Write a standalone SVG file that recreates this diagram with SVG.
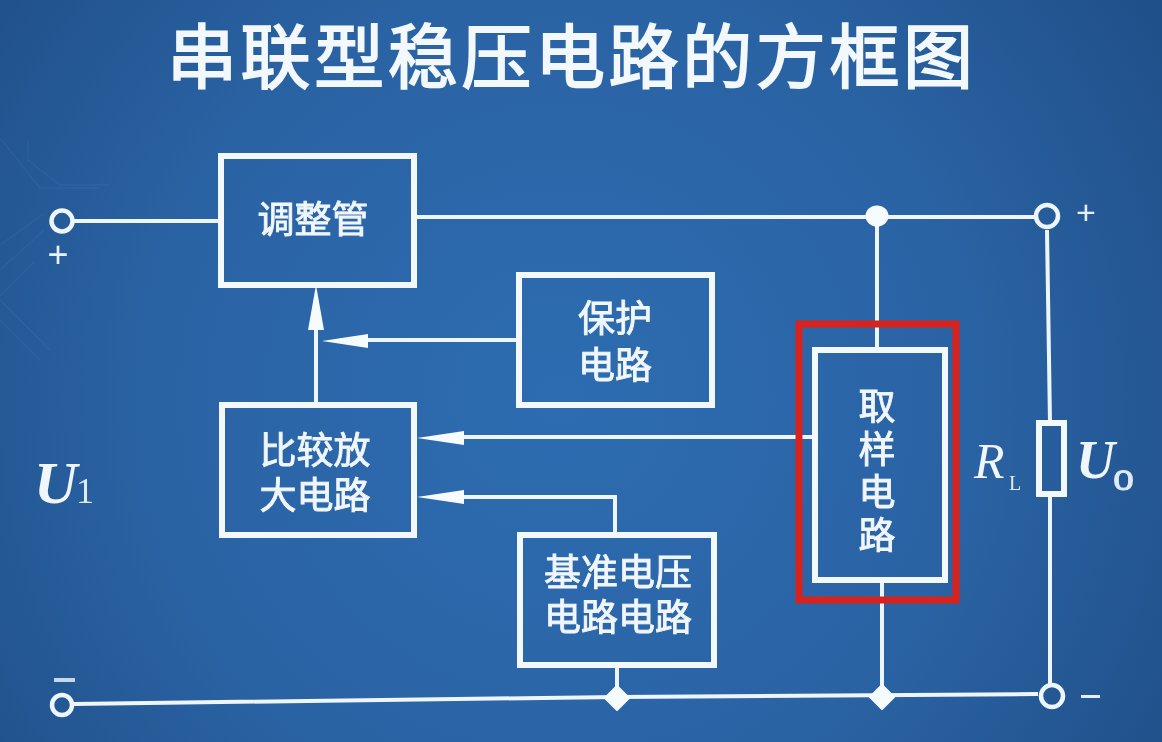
<svg xmlns="http://www.w3.org/2000/svg" width="1162" height="742" viewBox="0 0 1162 742">
<defs>
<radialGradient id="bg" gradientUnits="userSpaceOnUse" cx="560" cy="400" r="740">
<stop offset="0" stop-color="#2d6cb1"/><stop offset="0.55" stop-color="#2a63a4"/><stop offset="1" stop-color="#1f4e87"/>
</radialGradient>
<filter id="soft" filterUnits="userSpaceOnUse" x="0" y="0" width="1162" height="742"><feGaussianBlur stdDeviation="0.6"/></filter>
</defs>
<style>
.box{fill:none;stroke:#f2f8fc;stroke-width:6}
.w{fill:none;stroke:#eef6fb;stroke-width:4}
.term{fill:none;stroke:#eef6fb;stroke-width:4.5}
.dot,.ah{fill:#f6fbfe}
.cn{font-family:"Liberation Sans","Noto Sans CJK SC","Noto Sans CJK TC",sans-serif;font-weight:400;font-size:37px;fill:#f0f6fb;stroke:#f0f6fb;stroke-width:.9;text-anchor:middle}
.it{font-family:"Liberation Serif",serif;font-style:italic;fill:#f0f6fb}
.rm{font-family:"Liberation Serif",serif;fill:#dfeaf4}
.sg{font-family:"Liberation Sans",sans-serif;fill:#e6f0f8;text-anchor:middle}
.pcb{fill:none;stroke:#4c86bf;stroke-width:1.5;opacity:.16}
</style>
<rect width="1162" height="742" fill="url(#bg)"/>
<g class="pcb">
<path d="M0 138L40 188H100M28 140V160L60 185H110M0 245L42 215M0 270L44 230M0 296L34 262M0 300L50 350M0 320L40 360"/>
</g>
<g filter="url(#soft)">
<text id="title" x="570" y="83" font-family="'Noto Sans CJK SC',sans-serif" font-weight="400" font-size="70" fill="#f2f8fc" stroke="#f2f8fc" stroke-width="1.8" text-anchor="middle" textLength="806" lengthAdjust="spacing">串联型稳压电路的方框图</text>
<g id="connectors">
<path class="w" d="M73 221H220"/>
<path class="w" d="M415 217H1036"/>
<path class="w" d="M877 217V349"/>
<path class="w" d="M1047 230L1050 423"/>
<path class="w" d="M1050 496V686"/>
<path class="w" d="M316 405V300"/>
<path class="w" d="M518 340H340"/>
<path class="w" d="M815 437H445"/>
<path class="w" d="M615 534V497H445"/>
<path class="w" d="M617 666V696"/>
<path class="w" d="M882 582V692"/>
<path class="w" d="M73 704L617 697L1038 694"/>
<path class="ah" d="M316 285L308 330H324Z"/>
<path class="ah" d="M322 341L368 334V348Z"/>
<path class="ah" d="M417 438L464 431V445Z"/>
<path class="ah" d="M417 497L464 490V504Z"/>
<ellipse class="dot" cx="877" cy="216" rx="11.5" ry="10.5"/>
<path class="dot" d="M617 686L629 698L617 710L605 698Z" stroke="#f6fbfe" stroke-width="2" stroke-linejoin="round"/>
<path class="dot" d="M882 685L894 697L882 709L870 697Z" stroke="#f6fbfe" stroke-width="2" stroke-linejoin="round"/>
</g>
<g id="terminals">
<circle class="term" cx="62" cy="221" r="10.5"/>
<circle class="term" cx="62" cy="705" r="10"/>
<circle class="term" cx="1047" cy="216" r="11"/>
<circle class="term" cx="1052" cy="696" r="11"/>
<text class="sg" x="58" y="267" font-size="36">+</text>
<rect x="54" y="678" width="21" height="4" fill="#c5d8ea"/>
<text class="sg" x="1086" y="224" font-size="34">+</text>
<rect x="1081" y="695" width="19" height="3" fill="#e6f0f8"/>
</g>
<g id="n-tiaozheng"><rect class="box" x="221" y="156" width="193" height="129"/><text class="cn" x="313" y="233">调整管</text></g>
<g id="n-baohu"><rect class="box" x="519" y="275" width="193" height="130"/><text class="cn" y="332"><tspan x="615">保护</tspan><tspan x="615" dy="47">电路</tspan></text></g>
<g id="n-bijiao"><rect class="box" x="222" y="405" width="192" height="130"/><text class="cn" y="464"><tspan x="315">比较放</tspan><tspan x="315" dy="45">大电路</tspan></text></g>
<g id="n-jizhun"><rect class="box" x="520" y="535" width="194" height="130"/><text class="cn" y="586"><tspan x="618">基准电压</tspan><tspan x="618" dy="45">电路电路</tspan></text></g>
<g id="n-quyang"><rect x="799" y="324" width="157" height="276" fill="none" stroke="#d8201f" stroke-width="7"/><rect class="box" x="815" y="350" width="130" height="230"/><text class="cn" x="877" y="387" style="writing-mode:vertical-rl;text-anchor:start;letter-spacing:6px;font-family:'Noto Sans CJK SC',sans-serif">取样电路</text></g>
<g id="n-rl"><rect x="1039" y="423" width="25" height="71" fill="none" stroke="#f2f8fc" stroke-width="6"/></g>
<text class="it" x="34" y="503" font-size="60" font-weight="700">U</text>
<text class="rm" x="76" y="503" font-size="36">1</text>
<text class="it" x="974" y="478" font-size="50">R</text>
<text class="rm" x="1009" y="490" font-size="20">L</text>
<text class="it" x="1076" y="478" font-size="54" font-weight="700">U</text>
<text class="rm" x="1113" y="490" font-size="42" stroke="#dfeaf4" stroke-width="1">o</text>
</g>
</svg>
